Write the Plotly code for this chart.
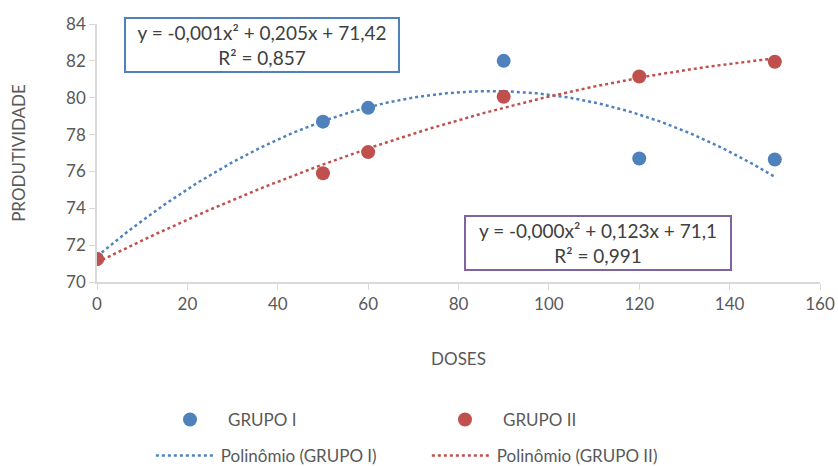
import numpy as np
import plotly.graph_objects as go

doses = [0, 50, 60, 90, 120, 150]
grupo1 = [71.25, 78.7, 79.45, 82.0, 76.7, 76.65]
grupo2 = [71.25, 75.9, 77.05, 80.05, 81.15, 81.95]
eq1 = "y = -0,001x² + 0,205x + 71,42<br>R² = 0,857"
eq2 = "y = -0,000x² + 0,123x + 71,1<br>R² = 0,991"
xticks = [0, 20, 40, 60, 80, 100, 120, 140, 160]
yticks = [70, 72, 74, 76, 78, 80, 82, 84]

blue = "#4F81BD"
red = "#C0504D"
font = "Lato, Open Sans, sans-serif"

c1 = np.polyfit(doses, grupo1, 2)
c2 = np.polyfit(doses, grupo2, 2)
xs = np.linspace(min(doses), max(doses), 200)

fig = go.Figure()
fig.add_trace(go.Scatter(x=xs, y=np.polyval(c1, xs), mode="lines", name="Polinômio (GRUPO I)",
                         line=dict(color=blue, width=2.5, dash="dot"), legend="legend2"))
fig.add_trace(go.Scatter(x=xs, y=np.polyval(c2, xs), mode="lines", name="Polinômio (GRUPO II)",
                         line=dict(color=red, width=2.5, dash="dot"), legend="legend2"))
fig.add_trace(go.Scatter(x=doses, y=grupo1, mode="markers", name="GRUPO I",
                         marker=dict(color=blue, size=14), legend="legend"))
fig.add_trace(go.Scatter(x=doses, y=grupo2, mode="markers", name="GRUPO II",
                         marker=dict(color=red, size=14), legend="legend"))

fig.add_annotation(x=0.2285, y=0.917, xref="paper", yref="paper", xanchor="center", yanchor="middle",
                   text=eq1, showarrow=False,
                   font=dict(size=19, color="#404040", family=font), align="center",
                   bordercolor=blue, borderwidth=2, borderpad=2, bgcolor="white",
                   width=268)
fig.add_annotation(x=0.693, y=0.151, xref="paper", yref="paper", xanchor="center", yanchor="middle",
                   text=eq2, showarrow=False,
                   font=dict(size=19, color="#404040", family=font), align="center",
                   bordercolor="#8064A2", borderwidth=2, borderpad=2, bgcolor="white",
                   width=260)

fig.update_layout(
    width=838, height=466,
    margin=dict(l=97, r=18, t=24, b=184),
    paper_bgcolor="white", plot_bgcolor="white",
    font=dict(family=font, size=17, color="#595959"),
    xaxis=dict(range=[0, 160], tickvals=xticks, showgrid=False, zeroline=False,
               showline=True, linecolor="#D9D9D9", linewidth=1.5,
               ticks="outside", tickcolor="#D9D9D9", ticklen=6, automargin=False,
               title=dict(text="DOSES", standoff=40, font=dict(size=17)),
               tickfont=dict(size=17)),
    yaxis=dict(range=[70, 84], tickvals=yticks, showgrid=False, zeroline=False,
               showline=True, linecolor="#D9D9D9", linewidth=1.5,
               ticks="outside", tickcolor="#D9D9D9", ticklen=6,
               title=dict(text="PRODUTIVIDADE", standoff=36, font=dict(size=17)),
               tickfont=dict(size=17)),
    legend=dict(orientation="h", x=152 / 838, y=1 - 420 / 466, xref="container", yref="container",
                xanchor="left", yanchor="middle", itemwidth=66,
                entrywidth=194, entrywidthmode="pixels", font=dict(size=17)),
    legend2=dict(orientation="h", x=0.18, y=1 - 456 / 466, xref="container", yref="container",
                 xanchor="left", yanchor="middle",
                 entrywidth=201, entrywidthmode="pixels", font=dict(size=17), itemwidth=60),
)

fig.write_html("out.html", post_script="document.body.style.margin='0';",
               config={"displayModeBar": False})
